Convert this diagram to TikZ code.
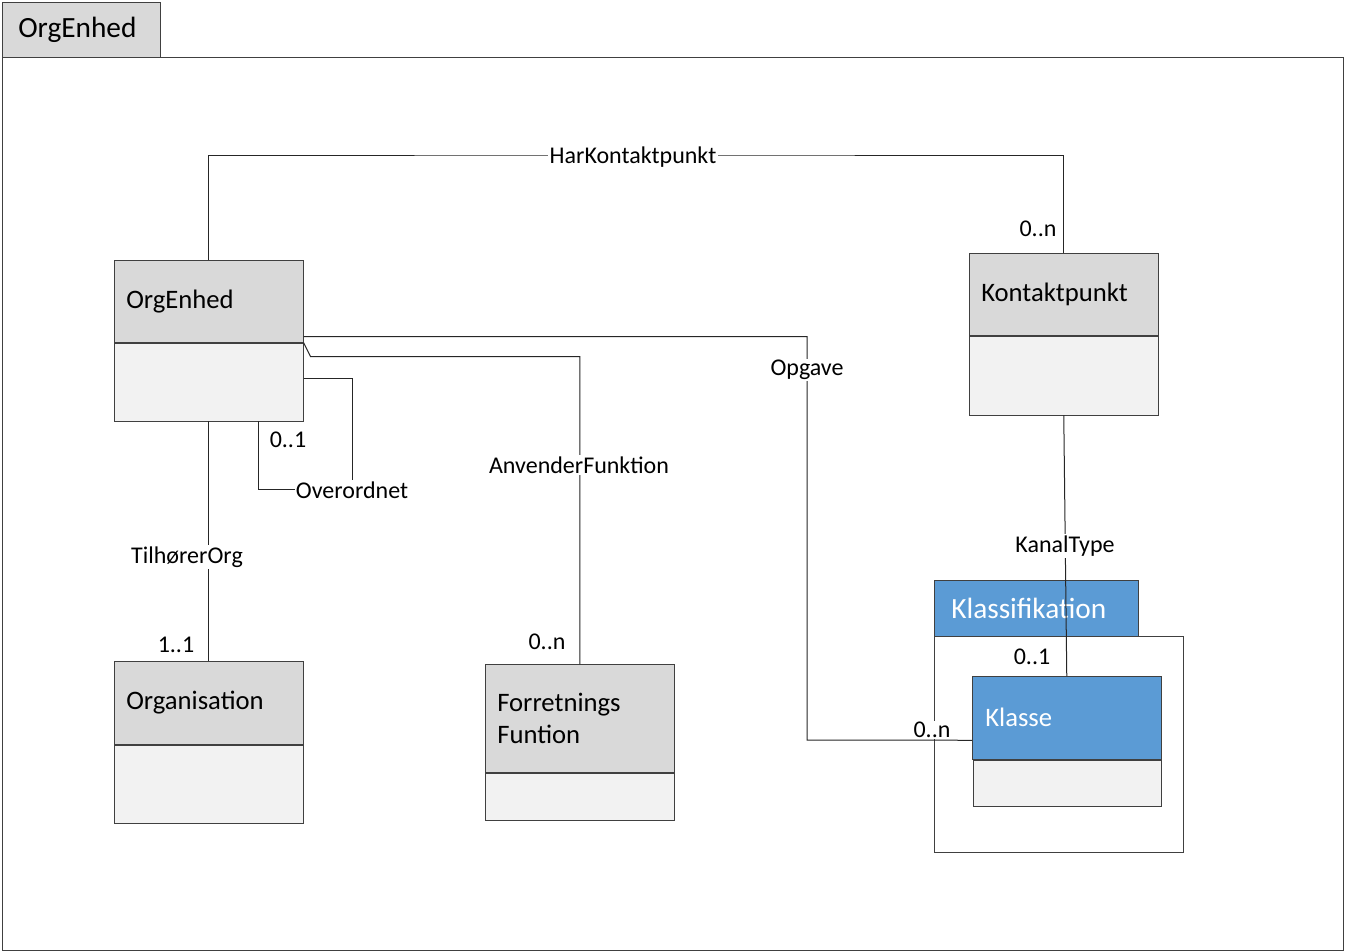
\documentclass[tikz,border=0pt]{standalone}
\usepackage{fontspec}
\setmainfont{Carlito}
\usepackage{xcolor}
\usepackage{tikz}
\usetikzlibrary{positioning}

\definecolor{hdrgray}{HTML}{D9D9D9}
\definecolor{bodygray}{HTML}{F2F2F2}
\definecolor{klsblue}{HTML}{5B9BD5}
\definecolor{lnclr}{HTML}{404040}

\newcommand{\clsfont}{\fontsize{20}{24}\selectfont}
\newcommand{\lblfont}{\fontsize{18}{21}\selectfont}

\begin{document}
\begin{tikzpicture}[x=0.75pt,y=-0.75pt,
    hdr/.style={draw=lnclr,fill=hdrgray,anchor=north west,minimum width=141.75pt,
      text width=123.75pt,inner xsep=9pt,align=left,font=\clsfont},
    body/.style={draw=lnclr,fill=bodygray,anchor=north,minimum width=141.75pt,inner sep=0pt},
    lbl/.style={fill=white,inner sep=1pt,font=\lblfont},
    conn/.style={draw=black!85,line width=0.75pt}]
    \useasboundingbox (0,0) rectangle (1345,952);

    % --- outer package
    \node[hdr,minimum width=118.5pt,text width=94.5pt,inner xsep=12pt,minimum height=41.25pt,
      font=\fontsize{22}{26}\selectfont] (pkgTab) at (2,2) {OrgEnhed};
    \node[draw=lnclr,anchor=north west,minimum width=1005.75pt,minimum height=669.75pt,inner sep=0pt]
      (pkgBody) at (2,57) {};

    % --- classes
    \node[hdr,minimum height=61.5pt] (orgH) at (114,260) {OrgEnhed};
    \node[body,minimum height=58.5pt] (orgB) at (orgH.south) {};

    \node[hdr,minimum height=61.5pt] (kontH) at (969,253) {Kontaktpunkt};
    \node[body,minimum height=59.25pt] (kontB) at (kontH.south) {};

    \node[hdr,minimum height=62.25pt] (orgnH) at (114,661) {Organisation};
    \node[body,minimum height=58.5pt] (orgnB) at (orgnH.south) {};

    \node[hdr,minimum height=81pt] (ffH) at (485,664) {Forretnings\\Funtion};
    \node[body,minimum height=35.25pt] (ffB) at (ffH.south) {};

    % --- Klassifikation package
    \node[hdr,fill=klsblue,text=white,minimum width=153pt,text width=127.5pt,inner xsep=12.75pt,
      minimum height=42pt,font=\fontsize{22}{26}\selectfont] (klsTab) at (934,580) {Klassifikation};
    \node[draw=lnclr,anchor=north west,minimum width=186.75pt,minimum height=162pt,inner sep=0pt]
      (klsBody) at (934,636) {};
    \node[hdr,fill=klsblue,text=white,minimum width=141pt,text width=122.25pt,inner xsep=9.75pt,
      minimum height=62.25pt] (klH) at (972,676) {Klasse};
    \node[body,minimum width=141pt,minimum height=34.5pt] (klB) at (klH.south) {};

    % --- bends
    \coordinate (hkBend) at (633,156);
    \coordinate (ovBend) at (352,489);
    \coordinate (opgBend) at (807,740);

    % --- connectors
    \draw[conn] (orgH.north) |- (hkBend) -| (kontH.north);
    \draw[conn] (orgB.south) -- (orgnH.north);
    \draw[conn] ([yshift=-27pt]orgB.north east) -| (ovBend) -| ([xshift=37.125pt]orgB.south);
    \draw[conn] (orgH.south east) -- ++(7,14) -| (ffH.north);
    \draw[conn] ([yshift=4.5pt]orgH.south east) -| (opgBend) -- ([yshift=-16.875pt]klH.west);
    \draw[conn] (kontB.south) -- (klH.north);

    % --- association labels
    \foreach \n/\pos/\txt in {hkLbl/{(633,157)}/HarKontaktpunkt, toLbl/{(187,557)}/TilhørerOrg,
        ovLbl/{(352,490)}/Overordnet, afLbl/{(579,465)}/AnvenderFunktion,
        opLbl/{(807,370)}/Opgave, ktLbl/{(1065,546)}/KanalType}
      {\node[lbl] (\n) at \pos {\txt};}

    % --- multiplicities
    \foreach \n/\pos/\txt in {mHk/{(1038,229)}/0..n, mTo/{(176,645)}/1..1, mOv/{(288,440)}/0..1,
        mAf/{(547,642)}/0..n, mOp/{(932,730)}/0..n, mKt/{(1032,657)}/0..1}
      {\node[lbl] (\n) at \pos {\txt};}
\end{tikzpicture}
\end{document}
